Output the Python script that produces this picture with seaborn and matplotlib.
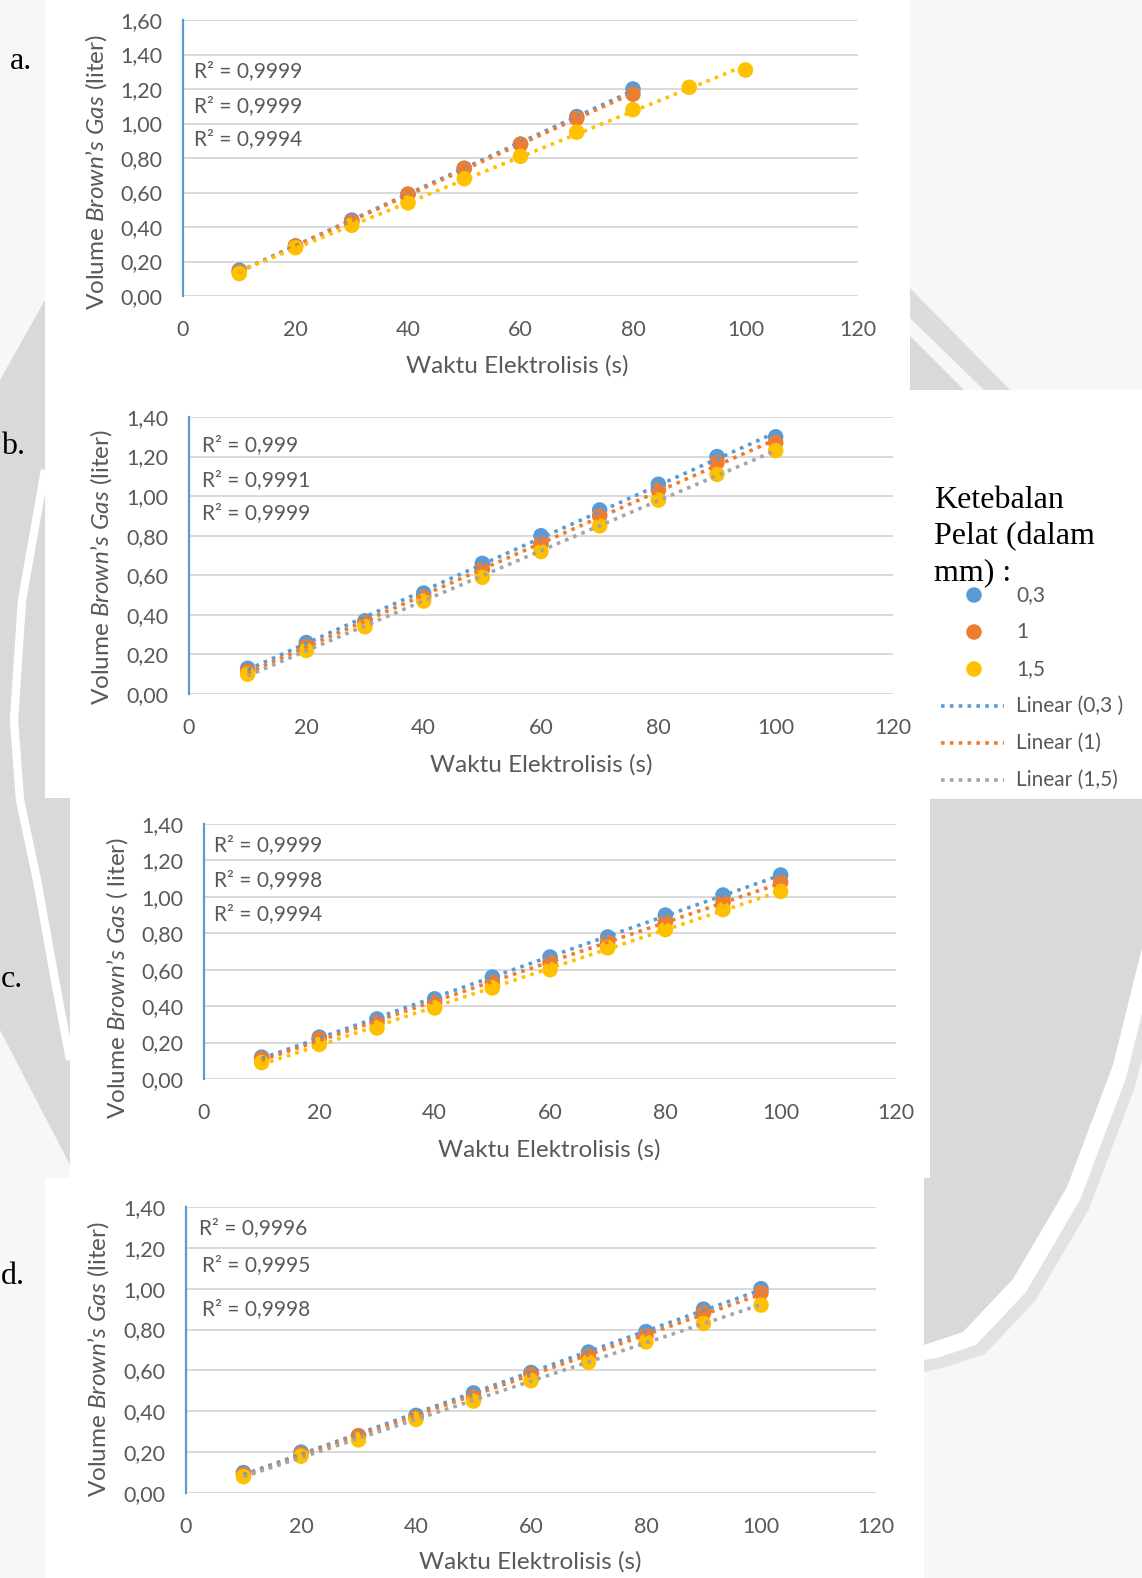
import numpy as np
import pandas as pd
import matplotlib
matplotlib.use("Agg")
import matplotlib.pyplot as plt
from matplotlib.ticker import FuncFormatter
from matplotlib.patches import Polygon, Rectangle
import seaborn as sns

sns.set_theme(style="white")
plt.rcParams["font.family"] = ["Lato", "DejaVu Sans"]
plt.rcParams["mathtext.fontset"] = "custom"
plt.rcParams["mathtext.rm"] = "Lato"
plt.rcParams["mathtext.it"] = "Lato:italic"

# ---------------- data ----------------
waktu = [10, 20, 30, 40, 50, 60, 70, 80, 90, 100]
tebal_labels = ["0,3", "1", "1,5"]

# a.
a_03 = [0.15, 0.29, 0.44, 0.59, 0.74, 0.88, 1.04, 1.20]
a_1 = [0.14, 0.29, 0.43, 0.59, 0.74, 0.88, 1.03, 1.17]
a_15 = [0.13, 0.28, 0.41, 0.54, 0.68, 0.81, 0.95, 1.08, 1.21, 1.31]
# b.
b_03 = [0.13, 0.26, 0.37, 0.51, 0.66, 0.80, 0.93, 1.06, 1.20, 1.30]
b_1 = [0.115, 0.24, 0.36, 0.49, 0.63, 0.76, 0.90, 1.03, 1.17, 1.27]
b_15 = [0.10, 0.22, 0.34, 0.47, 0.59, 0.72, 0.85, 0.98, 1.11, 1.23]
# c.
c_03 = [0.12, 0.23, 0.33, 0.44, 0.56, 0.67, 0.78, 0.90, 1.01, 1.12]
c_1 = [0.11, 0.22, 0.31, 0.42, 0.53, 0.64, 0.75, 0.86, 0.97, 1.08]
c_15 = [0.09, 0.19, 0.28, 0.39, 0.50, 0.60, 0.72, 0.82, 0.93, 1.03]
# d.
d_03 = [0.10, 0.20, 0.28, 0.38, 0.49, 0.59, 0.69, 0.79, 0.90, 1.00]
d_1 = [0.09, 0.19, 0.28, 0.37, 0.47, 0.58, 0.67, 0.77, 0.88, 0.98]
d_15 = [0.08, 0.18, 0.26, 0.36, 0.45, 0.55, 0.64, 0.74, 0.83, 0.92]

r2_a = ["R² = 0,9999", "R² = 0,9999", "R² = 0,9994"]
r2_b = ["R² = 0,999", "R² = 0,9991", "R² = 0,9999"]
r2_c = ["R² = 0,9999", "R² = 0,9998", "R² = 0,9994"]
r2_d = ["R² = 0,9996", "R² = 0,9995", "R² = 0,9998"]

BLUE, ORANGE, YELLOW, GRAY = "#5B9BD5", "#ED7D31", "#FFC000", "#A5A5A5"
TXT = "#595959"
DOT = (0, (1.0, 1.45))


def long_frame(series):
    rows = []
    for lab, vals in zip(tebal_labels, series):
        for t, v in zip(waktu, vals):
            rows.append({"waktu": t, "volume": v, "tebal": lab})
    return pd.DataFrame(rows)


W, H = 1142, 1578
fig = plt.figure(figsize=(W / 100, H / 100), dpi=100)

# ---------------- page background ----------------
bg = fig.add_axes([0, 0, 1, 1], zorder=-10)
bg.set_xlim(0, W)
bg.set_ylim(H, 0)
bg.axis("off")
bg.add_patch(Rectangle((0, 0), W, H, facecolor="#f7f7f7", edgecolor="none", zorder=0))


def poly(pts, color, z=2):
    bg.add_patch(Polygon(pts, closed=True, facecolor=color, edgecolor="none", zorder=z))


# grey swooshes of the page
curve = [(1142, 948), (1113, 1065), (1067, 1187), (1013, 1279), (963, 1332), (924, 1345)]
poly([(924, 799), (1142, 799)] + [(x + 22, y + 22) for x, y in curve] + [(924, 1372)], "#e2e2e2")
poly([(924, 799), (1142, 799)] + [(x + 13, y + 13) for x, y in curve] + [(924, 1360)], "white")
poly([(924, 799), (1142, 799)] + curve, "#d9d9d9")

poly([(910, 288), (1010, 390), (984, 390), (910, 318)], "#dcdcdc")
poly([(910, 336), (964, 390), (910, 390)], "#d9d9d9")

poly([(0, 380), (45, 300), (45, 795), (70, 795), (70, 1165), (0, 1030)], "#d9d9d9")
bg.plot([45, 22, 14, 20, 37, 55, 70], [470, 600, 720, 800, 880, 980, 1060],
        color="white", lw=6, zorder=2.5, solid_capstyle="butt")

# white chart boxes
for x0, y0, x1, y1 in [(45, 0, 910, 390), (45, 390, W, 798),
                       (70, 798, 930, 1178), (45, 1178, 924, H)]:
    bg.add_patch(Rectangle((x0, y0), x1 - x0, y1 - y0, facecolor="white",
                           edgecolor="none", zorder=3))

# panel letters
for lab, (x, y) in zip(["a.", "b.", "c.", "d."],
                       [(10, 61), (1, 446), (1, 979), (1, 1276)]):
    bg.text(x, y, lab, fontsize=23, family=["Liberation Serif", "DejaVu Serif"],
            color="black", va="center", ha="left", zorder=6)

# legend
for i, line in enumerate(["Ketebalan", "Pelat (dalam", "mm) :"]):
    bg.text(934, 500 + 36.5 * i, line, fontsize=23,
            family=["Liberation Serif", "DejaVu Serif"], color="black",
            va="center", ha="left", zorder=6)
for i, (lab, col) in enumerate(zip(tebal_labels, [BLUE, ORANGE, YELLOW])):
    yy = 595 + 37 * i
    bg.scatter([974], [yy], s=125, color=col, edgecolor="none", zorder=6)
    bg.text(1016, yy, lab, fontsize=15, color=TXT, va="center", ha="left", zorder=6)
for i, (lab, col) in enumerate(zip(["Linear (0,3 )", "Linear (1)", "Linear (1,5)"],
                                   [BLUE, ORANGE, GRAY])):
    yy = 706 + 37 * i
    bg.plot([941, 1004], [yy, yy], color=col, lw=2.6, ls=DOT, zorder=6)
    bg.text(1016, yy, lab, fontsize=15, color=TXT, va="center", ha="left", zorder=6)


# ---------------- panels ----------------
def to_fig(left, top, right, bottom):
    return [left / W, 1 - bottom / H, (right - left) / W, (bottom - top) / H]


panels = [
    dict(rect=(183, 20, 858, 296), ymax=1.6, series=[a_03, a_1, a_15],
         trend=[BLUE, ORANGE, YELLOW], r2=r2_a, r2x=[0.016] * 3,
         r2y=[0.815, 0.688, 0.569], ylab="(liter)", xl=(0.495, -0.254),
         yl=(-0.129, 0.449)),
    dict(rect=(189, 417, 893, 694), ymax=1.4, series=[b_03, b_1, b_15],
         trend=[BLUE, ORANGE, GRAY], r2=r2_b, r2x=[0.018] * 3,
         r2y=[0.899, 0.773, 0.653], ylab="(liter)", xl=(0.5, -0.256),
         yl=(-0.125, 0.458)),
    dict(rect=(204, 824, 896, 1079), ymax=1.4, series=[c_03, c_1, c_15],
         trend=[BLUE, ORANGE, YELLOW], r2=r2_c, r2x=[0.0145] * 3,
         r2y=[0.917, 0.779, 0.646], ylab="( liter)", xl=(0.4986, -0.278),
         yl=(-0.126, 0.396)),
    dict(rect=(186, 1207, 876, 1493), ymax=1.4, series=[d_03, d_1, d_15],
         trend=[BLUE, ORANGE, GRAY], r2=r2_d, r2x=[0.019, 0.023, 0.023],
         r2y=[0.927, 0.797, 0.643], ylab="(liter)", xl=(0.4986, -0.241),
         yl=(-0.1275, 0.468)),
]

comma = FuncFormatter(lambda v, p: f"{v:.2f}".replace(".", ","))

for p in panels:
    ax = fig.add_axes(to_fig(*p["rect"]))
    ax.set_facecolor("white")
    df = long_frame(p["series"])
    for lab, col in zip(tebal_labels, [BLUE, ORANGE, YELLOW]):
        sub = df[df["tebal"] == lab]
        sns.scatterplot(data=sub, x="waktu", y="volume", color=col, s=125,
                        edgecolor="none", linewidth=0, ax=ax, zorder=3, legend=False)
    for lab, col in zip(tebal_labels, p["trend"]):
        sub = df[df["tebal"] == lab]
        sns.regplot(data=sub, x="waktu", y="volume", scatter=False, ci=None,
                    truncate=True, color=col, ax=ax,
                    line_kws=dict(ls=DOT, lw=2.6, zorder=4))
    ax.set_xlim(0, 120)
    ax.set_ylim(0, p["ymax"])
    ax.set_xticks(range(0, 121, 20))
    ax.set_yticks(np.round(np.arange(0, p["ymax"] + 0.001, 0.2), 2))
    ax.yaxis.set_major_formatter(comma)
    ax.yaxis.grid(True, color="#D9D9D9", lw=1.4)
    ax.xaxis.grid(False)
    ax.set_axisbelow(True)
    for s in ["top", "right", "bottom"]:
        ax.spines[s].set_visible(False)
    ax.spines["left"].set_color(BLUE)
    ax.spines["left"].set_linewidth(1.6)
    ax.spines["left"].set_zorder(2.5)
    ax.tick_params(axis="both", length=0, labelsize=15.5, labelcolor=TXT)
    ax.tick_params(axis="x", pad=17)
    ax.tick_params(axis="y", pad=15)
    ax.set_xlabel("Waktu Elektrolisis (s)", fontsize=17.5, color=TXT)
    ax.set_ylabel("Volume $\\mathit{Brown’s\\ Gas}$ " + p["ylab"], fontsize=17.5, color=TXT)
    ax.xaxis.set_label_coords(*p["xl"])
    ax.xaxis.label.set_va("center")
    ax.yaxis.set_label_coords(*p["yl"])
    ax.yaxis.label.set_va("center")
    for txt, rx, ry in zip(p["r2"], p["r2x"], p["r2y"]):
        ax.text(rx, ry, txt, transform=ax.transAxes, fontsize=15, color=TXT,
                va="center", ha="left", zorder=5)

fig.savefig("out.png", dpi=100)
